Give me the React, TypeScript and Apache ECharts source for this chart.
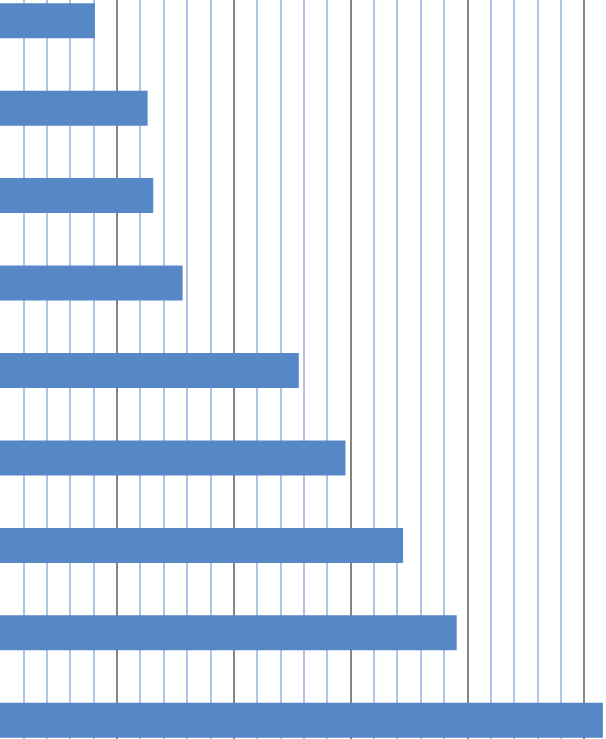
import React, { useEffect, useRef } from "react";
import * as echarts from "echarts";

// categories listed top to bottom (no labels visible in the picture)
const categories = ["A", "B", "C", "D", "E", "F", "G", "H", "I"];
const values = [16.25, 25.27, 26.23, 31.26, 51.15, 59.14, 69.0, 78.18, 103.2];

const AXIS_MAX = 120;
const MAJOR = 20;

const BAR_COLOR = "#5687c7";
const MAJOR_COLOR = "#848484";
const MINOR_COLOR = "#afc3e8";

const App: React.FC = () => {
    const ref = useRef<HTMLDivElement | null>(null);

    useEffect(() => {
        if (!ref.current) return;
        const inst = echarts.init(ref.current, undefined, { renderer: "svg" });
        inst.setOption({
            animation: false,
            backgroundColor: "#ffffff",
            grid: { left: 0, right: 0, top: 0, bottom: 0, containLabel: false },
            xAxis: {
                type: "value",
                min: 0,
                max: AXIS_MAX,
                interval: MAJOR,
                axisLine: { show: false },
                axisTick: { show: false },
                axisLabel: { show: false },
                splitLine: {
                    show: true,
                    showMinLine: false,
                    lineStyle: { color: MAJOR_COLOR, width: 2 },
                },
                minorTick: { show: false, splitNumber: 5 },
                minorSplitLine: { show: true, lineStyle: { color: MINOR_COLOR, width: 2 } },
            },
            yAxis: {
                type: "category",
                data: categories,
                inverse: true,
                axisLine: { show: false },
                axisTick: { show: false },
                axisLabel: { show: false },
                splitLine: { show: false },
            },
            series: [
                {
                    type: "bar",
                    data: values,
                    barWidth: "40%",
                    itemStyle: { color: BAR_COLOR },
                    z: 3,
                },
            ],
        });
        return () => inst.dispose();
    }, []);

    return (
        <div
            style={{
                position: "fixed",
                left: 0,
                top: 0,
                width: 606,
                height: 739,
                overflow: "hidden",
                background: "#fff",
            }}
        >
            <div
                ref={ref}
                style={{ position: "absolute", left: 0, top: -23.2, width: 701.4, height: 786.6 }}
            />
        </div>
    );
};

export default App;
